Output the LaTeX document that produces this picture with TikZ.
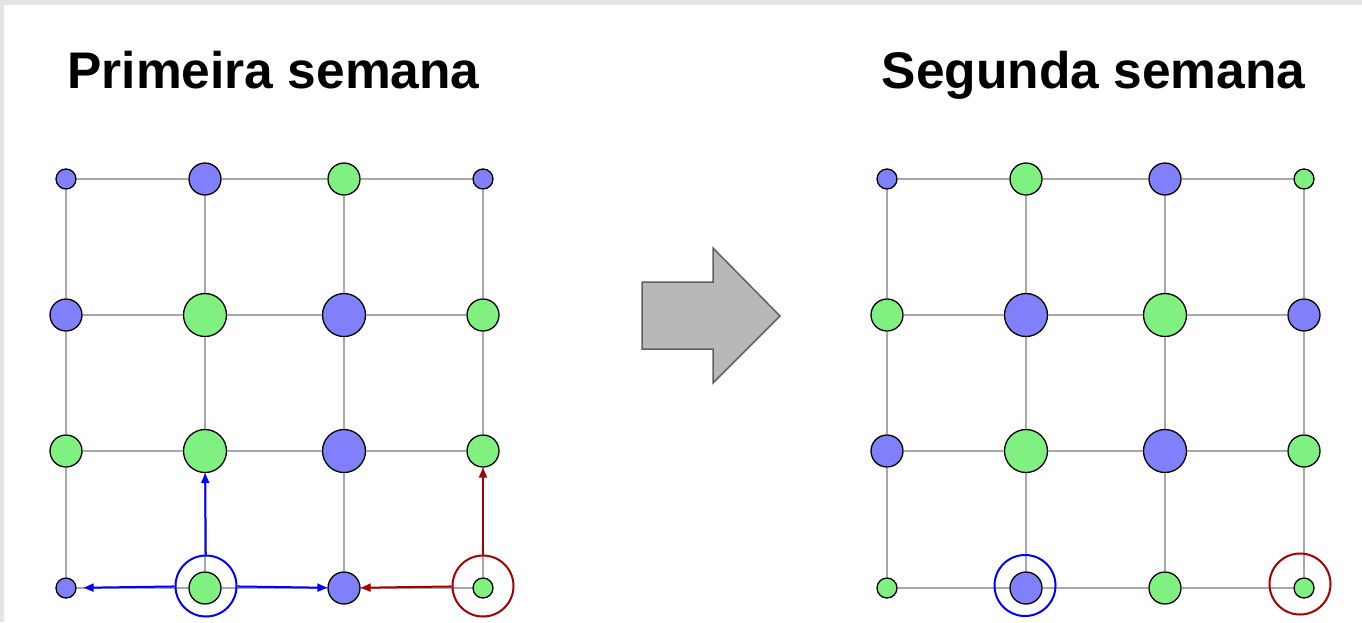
\documentclass[tikz,border=0pt]{standalone}
\usepackage{fontspec}
\setmainfont{Liberation Sans}
\usetikzlibrary{arrows.meta}
\definecolor{nodeblue}{RGB}{128,128,250}
\definecolor{nodegreen}{RGB}{128,240,128}
\definecolor{gridgray}{RGB}{168,168,168}
\definecolor{framegray}{RGB}{228,228,228}
\definecolor{darkred}{RGB}{165,0,0}
\definecolor{arrowfill}{RGB}{184,184,184}
\definecolor{arrowdraw}{RGB}{96,96,96}
\begin{document}
\begin{tikzpicture}[x=1pt,y=-1pt,
  gridline/.style={draw=gridgray,line width=1.8pt},
  vtx/.style={circle,draw=black,line width=1.3pt,inner sep=0pt},
  bl/.style={vtx,fill=nodeblue},
  gr/.style={vtx,fill=nodegreen},
  sm/.style={minimum size=20pt},
  md/.style={minimum size=32pt},
  lg/.style={minimum size=43pt},
  ring/.style={circle,line width=2pt,minimum size=61pt,inner sep=0pt},
  mover/.style={line width=2pt,-{Triangle[length=10pt,width=8pt]}},
  title/.style={font=\bfseries\fontsize{51.5}{60}\selectfont,anchor=base,inner sep=0pt},
  bigarrow/.style={fill=arrowfill,draw=arrowdraw,line width=1.5pt,line join=miter}]
\fill[white] (0,0) rectangle (1362,622);
\useasboundingbox (0,0) rectangle (1362,622);
\fill[framegray] (0,0) rectangle (1362,5);
\fill[framegray] (0,0) rectangle (4,622);

% titles
\node[title] (t1) at (273.5,88) {Primeira semana};
\node[title] (t2) at (1093.5,88) {Segunda semana};

% left grid
\node[bl,sm] (L11) at (66,179) {};
\node[bl,md] (L12) at (205,179) {};
\node[gr,md] (L13) at (344,179) {};
\node[bl,sm] (L14) at (483,179) {};
\node[bl,md] (L21) at (66,315) {};
\node[gr,lg] (L22) at (205,315) {};
\node[bl,lg] (L23) at (344,315) {};
\node[gr,md] (L24) at (483,315) {};
\node[gr,md] (L31) at (66,451) {};
\node[gr,lg] (L32) at (205,451) {};
\node[bl,lg] (L33) at (344,451) {};
\node[gr,md] (L34) at (483,451) {};
\node[bl,sm] (L41) at (66,588) {};
\node[gr,md] (L42) at (205,588) {};
\node[bl,md] (L43) at (344,588) {};
\node[gr,sm] (L44) at (483,588) {};

% right grid
\node[bl,sm] (R11) at (887,179) {};
\node[gr,md] (R12) at (1026,179) {};
\node[bl,md] (R13) at (1165,179) {};
\node[gr,sm] (R14) at (1304,179) {};
\node[gr,md] (R21) at (887,315) {};
\node[bl,lg] (R22) at (1026,315) {};
\node[gr,lg] (R23) at (1165,315) {};
\node[bl,md] (R24) at (1304,315) {};
\node[bl,md] (R31) at (887,451) {};
\node[gr,lg] (R32) at (1026,451) {};
\node[bl,lg] (R33) at (1165,451) {};
\node[gr,md] (R34) at (1304,451) {};
\node[gr,sm] (R41) at (887,588) {};
\node[bl,md] (R42) at (1026,588) {};
\node[gr,md] (R43) at (1165,588) {};
\node[gr,sm] (R44) at (1304,588) {};

% grid lines
\foreach \g in {L,R}{
  \foreach \r in {1,2,3,4}{
    \draw[gridline] (\g\r1) -- (\g\r2) -- (\g\r3) -- (\g\r4);
    \draw[gridline] (\g1\r) -- (\g2\r) -- (\g3\r) -- (\g4\r);
  }
}

% highlight rings
\node[ring,draw=blue] (hbL) at (206,586) {};
\node[ring,draw=darkred] (hrL) at (483,586) {};
\node[ring,draw=blue] (hbR) at (1025,585.5) {};
\node[ring,draw=darkred] (hrR) at (1300,584) {};

% moves
\draw[mover,blue] (hbL) -- (L32);
\draw[mover,blue,shorten >=7pt] (hbL) -- (L41);
\draw[mover,blue] (hbL) -- (L43);
\draw[mover,darkred] (hrL) -- (L43);
\draw[mover,darkred] (hrL) -- (L34);

% big arrow
\draw[bigarrow] (642,282) -- (713,282) -- (713,248) -- (780,316) -- (713,383) -- (713,349) -- (642,349) -- cycle;
\end{tikzpicture}
\end{document}
